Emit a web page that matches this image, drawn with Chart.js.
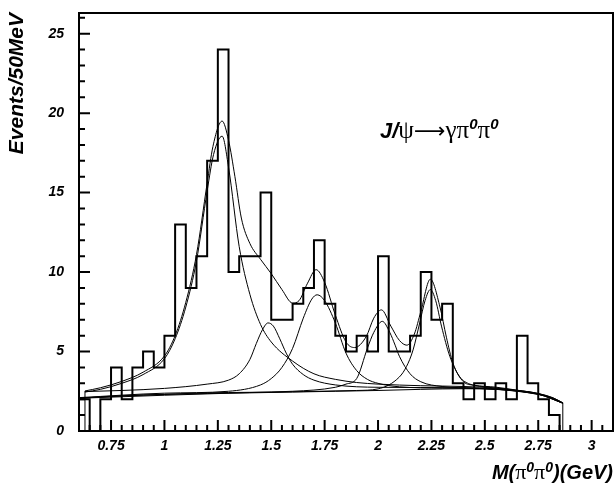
<!DOCTYPE html>
<html>
<head>
<meta charset="utf-8">
<script src="https://cdn.jsdelivr.net/npm/chart.js@4.4.1/dist/chart.umd.min.js"></script>
<style>
  html, body { margin: 0; padding: 0; background: #fff; }
  #wrap { width: 615px; height: 484px; }
</style>
</head>
<body>
<div id="wrap"><canvas id="chart" width="615" height="484"></canvas></div>
<script>
// histogram: events per 50 MeV bin, first bin starts at 0.60 GeV
const binStart = 0.6;
const binWidth = 0.05;
const counts = [2, 0, 2, 4, 2, 4, 5, 4, 6, 13, 9, 11, 17, 24, 10, 11, 11, 15, 7, 7,
                8, 9, 12, 8, 6, 5, 6, 5, 11, 5, 5, 6, 10, 7, 8, 3, 2, 3, 2, 3,
                2, 6, 3, 2, 1];

// fit curves (mass in GeV, events/50MeV)
const totalX = [0.628, 0.7, 0.8, 0.9, 1.0, 1.05, 1.1, 1.15, 1.2, 1.227, 1.27, 1.3, 1.33, 1.36, 1.4, 1.45, 1.5, 1.55, 1.6, 1.63,
                1.67, 1.71, 1.75, 1.8, 1.85, 1.89, 1.945, 1.98, 2.016, 2.06, 2.1, 2.135, 2.17, 2.2, 2.245, 2.29, 2.32, 2.35, 2.4, 2.45,
                2.55, 2.65, 2.75, 2.82, 2.865];
const totalY = [2.52, 2.72, 3.12, 3.7, 4.72, 6.0, 8.1, 11.1, 15.6, 17.9, 19.5, 18.3, 16.0, 13.4, 11.8, 10.8, 9.9, 8.9, 8.05, 8.2,
                9.3, 10.15, 9.35, 7.3, 5.6, 5.25, 5.95, 7.1, 7.62, 6.6, 5.7, 5.4, 6.1, 7.5, 9.55, 7.8, 5.9, 4.3, 3.1, 2.88,
                2.76, 2.57, 2.36, 2.08, 1.78];

const f2X = [0.628, 0.7, 0.8, 0.9, 1.0, 1.05, 1.1, 1.15, 1.2, 1.23, 1.27, 1.3, 1.35, 1.4, 1.45, 1.5, 1.6, 1.7, 1.8, 1.9,
             2.0, 2.2, 2.4, 2.55, 2.65, 2.75, 2.82, 2.865];
const f2Y = [2.45, 2.62, 3.0, 3.55, 4.55, 5.8, 7.8, 10.7, 15.1, 17.4, 18.55, 16.6, 11.6, 8.6, 6.7, 5.6, 4.4, 3.6, 3.25, 3.05,
             2.95, 2.85, 2.8, 2.7, 2.56, 2.35, 2.08, 1.77];

const f1500X = [0.628, 0.8, 1.0, 1.2, 1.3, 1.35, 1.4, 1.43, 1.46, 1.485, 1.51, 1.54, 1.57, 1.6, 1.65, 1.7, 1.8, 2.0, 2.4, 2.65,
                2.75, 2.865];
const f1500Y = [2.48, 2.55, 2.68, 2.95, 3.2, 3.6, 4.5, 5.5, 6.4, 6.8, 6.6, 5.8, 4.9, 4.2, 3.55, 3.2, 2.9, 2.75, 2.72, 2.55,
                2.35, 1.76];

const f1710X = [0.6, 1.0, 1.3, 1.45, 1.5, 1.55, 1.6, 1.65, 1.69, 1.715, 1.75, 1.8, 1.85, 1.9, 1.95, 2.0, 2.1, 2.3, 2.5, 2.65,
                2.75, 2.865];
const f1710Y = [2.1, 2.38, 2.5, 2.9, 3.3, 4.0, 5.2, 7.1, 8.3, 8.57, 8.2, 6.8, 4.9, 3.8, 3.25, 3.0, 2.78, 2.7, 2.66, 2.52,
                2.32, 1.75];

const f2020X = [0.6, 1.2, 1.6, 1.8, 1.85, 1.9, 1.95, 1.98, 2.02, 2.055, 2.08, 2.1, 2.15, 2.2, 2.3, 2.45, 2.65, 2.75, 2.865];
const f2020Y = [2.08, 2.4, 2.5, 2.75, 2.95, 3.3, 5.2, 6.2, 6.9, 6.2, 5.4, 4.7, 3.6, 3.1, 2.8, 2.7, 2.52, 2.32, 1.75];

const f2250X = [0.6, 1.4, 1.9, 2.0, 2.1, 2.133, 2.164, 2.195, 2.22, 2.245, 2.27, 2.297, 2.336, 2.383, 2.43, 2.5, 2.6, 2.7, 2.78, 2.865];
const f2250Y = [2.06, 2.42, 2.55, 2.65, 3.4, 4.05, 5.1, 6.8, 8.2, 8.9, 8.2, 6.6, 4.7, 3.4, 2.95, 2.78, 2.62, 2.42, 2.22, 1.75];

const bgX = [0.6, 0.7, 0.8, 0.9, 1.0, 1.2, 1.4, 1.6, 1.8, 2.0, 2.2, 2.4, 2.55, 2.65, 2.75, 2.82, 2.865];
const bgY = [2.05, 2.15, 2.22, 2.27, 2.3, 2.36, 2.4, 2.45, 2.5, 2.55, 2.62, 2.66, 2.62, 2.5, 2.3, 2.05, 1.75];

const xTickLabels = [0.75, 1, 1.25, 1.5, 1.75, 2, 2.25, 2.5, 2.75, 3];
const yTickLabels = [0, 5, 10, 15, 20, 25];

const FAMILY = '"Liberation Sans", Arial, Helvetica, sans-serif';
const GREEK = '"Liberation Serif", "Times New Roman", serif';

function pts(xs, ys) {
    return xs.map((x, i) => ({ x: x, y: ys[i] }));
}

// step histogram: value of bin i is held from its left edge to the next edge
const histPoints = counts.map((c, i) => ({ x: binStart + i * binWidth, y: c }));
histPoints.push({ x: binStart + counts.length * binWidth, y: 0 });

function curve(xs, ys) {
    return {
        type: 'line',
        data: pts(xs, ys),
        borderColor: '#000',
        borderWidth: 1,
        pointRadius: 0,
        fill: false,
        cubicInterpolationMode: 'monotone'
    };
}

// vertical edges where the fit functions start / stop
function edge(x, y) {
    return {
        type: 'line',
        data: [{ x: x, y: 0 }, { x: x, y: y }],
        borderColor: '#000',
        borderWidth: 1,
        pointRadius: 0
    };
}

// ticks drawn inside the frame, like the original plot
const frameTicks = {
    id: 'frameTicks',
    afterDatasetsDraw(chart) {
        const { ctx, chartArea: a, scales: { x, y } } = chart;
        ctx.save();
        ctx.strokeStyle = '#000';
        ctx.lineWidth = 2;
        ctx.beginPath();
        for (let i = 13; i <= 62; i++) {
            const px = x.getPixelForValue(i * binWidth);
            const len = i % 5 === 0 ? 11 : 6;
            ctx.moveTo(px, a.bottom);
            ctx.lineTo(px, a.bottom - len);
        }
        for (let v = 1; v <= 26; v++) {
            const py = y.getPixelForValue(v);
            const len = v % 5 === 0 ? 11 : 6;
            ctx.moveTo(a.left, py);
            ctx.lineTo(a.left + len, py);
        }
        ctx.stroke();
        ctx.strokeRect(a.left, a.top, a.right - a.left, a.bottom - a.top);
        ctx.restore();
    }
};

function drawRuns(ctx, x, y, runs) {
    for (const r of runs) {
        ctx.font = r.font;
        ctx.fillText(r.t, x, y - (r.rise || 0));
        x += ctx.measureText(r.t).width;
    }
    return x;
}

function runsWidth(ctx, runs) {
    let w = 0;
    for (const r of runs) {
        ctx.font = r.font;
        w += ctx.measureText(r.t).width;
    }
    return w;
}

const bi = s => 'italic bold ' + s + 'px ' + FAMILY;
const gr = s => s + 'px ' + GREEK;

const labels = {
    id: 'labels',
    afterDraw(chart) {
        const { ctx, chartArea: a } = chart;
        ctx.save();
        ctx.fillStyle = '#000';
        ctx.textBaseline = 'alphabetic';
        ctx.textAlign = 'left';

        // x axis title M(pi0 pi0)(GeV), right aligned
        const xt = [
            { t: 'M(', font: bi(20) },
            { t: 'π', font: gr(22) },
            { t: '0', font: bi(14), rise: 7 },
            { t: 'π', font: gr(22) },
            { t: '0', font: bi(14), rise: 7 },
            { t: ')(GeV)', font: bi(20) }
        ];
        drawRuns(ctx, a.right - runsWidth(ctx, xt), 479, xt);

        // reaction label
        const rt = [
            { t: 'J/', font: bi(22) },
            { t: 'ψ', font: gr(25) },
            { t: '⟶', font: '22px "DejaVu Sans", sans-serif' },
            { t: 'γπ', font: gr(25) },
            { t: '0', font: bi(15), rise: 9 },
            { t: 'π', font: gr(25) },
            { t: '0', font: bi(15), rise: 9 }
        ];
        drawRuns(ctx, 380, 138, rt);
        ctx.restore();
    }
};

function noPad(s) {
    s.paddingTop = 0;
    s.paddingBottom = 0;
    s.paddingLeft = 0;
    s.paddingRight = 0;
}

new Chart(document.getElementById('chart'), {
    type: 'line',
    data: {
        datasets: [
            curve(bgX, bgY),
            curve(f2250X, f2250Y),
            curve(f2020X, f2020Y),
            curve(f1710X, f1710Y),
            curve(f1500X, f1500Y),
            curve(f2X, f2Y),
            curve(totalX, totalY),
            edge(totalX[0], totalY[0]),
            edge(totalX[totalX.length - 1], totalY[totalY.length - 1]),
            {
                type: 'line',
                data: histPoints,
                stepped: 'before',
                borderColor: '#000',
                borderWidth: 2,
                pointRadius: 0,
                fill: false
            }
        ]
    },
    options: {
        responsive: false,
        animation: false,
        devicePixelRatio: 1,
        layout: { padding: { left: 0, right: 2, top: 13, bottom: 0 } },
        plugins: { legend: { display: false }, tooltip: { enabled: false } },
        scales: {
            x: {
                type: 'linear',
                min: 0.6,
                max: 3.1,
                grid: { display: false },
                border: { display: false },
                afterFit: s => { s.height = 53; noPad(s); },
                afterBuildTicks: s => { s.ticks = xTickLabels.map(v => ({ value: v })); },
                ticks: {
                    autoSkip: false,
                    maxRotation: 0,
                    padding: -1,
                    color: '#000',
                    font: { family: FAMILY, size: 14, style: 'italic', weight: 'bold' },
                    callback: v => String(v)
                }
            },
            y: {
                type: 'linear',
                min: 0,
                max: 26.3,
                grid: { display: false },
                border: { display: false },
                afterFit: s => { s.width = 79; noPad(s); },
                afterBuildTicks: s => { s.ticks = yTickLabels.map(v => ({ value: v })); },
                ticks: {
                    padding: 7,
                    color: '#000',
                    font: { family: FAMILY, size: 14, style: 'italic', weight: 'bold' },
                    callback: v => String(v)
                },
                title: {
                    display: true,
                    text: 'Events/50MeV',
                    align: 'end',
                    color: '#000',
                    padding: { top: 5, bottom: 0 },
                    font: { family: FAMILY, size: 21, style: 'italic', weight: 'bold' }
                }
            }
        }
    },
    plugins: [frameTicks, labels]
});
</script>
</body>
</html>
